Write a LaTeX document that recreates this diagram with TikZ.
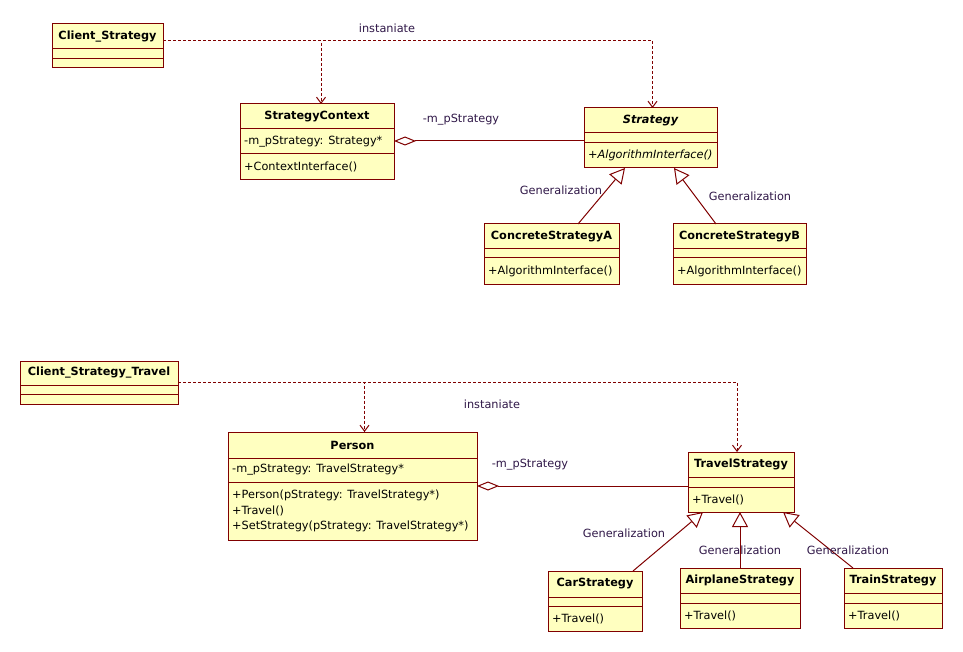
\documentclass[tikz,border=0pt]{standalone}
\usepackage{fontspec}
\setmainfont{DejaVu Sans}
\usepackage{xcolor}
\usepackage{tikz}
\usetikzlibrary{calc}
\usetikzlibrary{arrows.meta}
\definecolor{umlred}{RGB}{128,0,0}
\definecolor{umlfill}{RGB}{255,255,192}
\definecolor{umltext}{RGB}{48,24,72}
\tikzset{
	classbox/.style={draw=umlred, fill=umlfill, line width=1pt, anchor=north west, inner sep=0pt, outer sep=0pt},
	sepline/.style={draw=umlred, line width=1pt},
	classname/.style={font=\fontsize{11.3}{13.5}\selectfont\bfseries, inner sep=0pt},
	member/.style={anchor=west, inner sep=0pt, align=left},
	deplink/.style={draw=umlred, line width=1pt, dash pattern=on 3pt off 2pt, -{Straight Barb[length=6pt,width=9pt]}},
	genlink/.style={draw=umlred, line width=1pt, -{Triangle[open, length=15pt, width=16pt, fill=white]}},
	agglink/.style={draw=umlred, line width=1pt, {Diamond[open, length=22pt, width=9pt, fill=white]}-},
	linklabel/.style={text=umltext, inner sep=0pt}
}

\begin{document}
\begin{tikzpicture}[x=1pt, y=-1pt, font=\fontsize{11.3}{13.5}\selectfont]
	\useasboundingbox[fill=white] (0,0) rectangle (963,652);

	%% Classes (top)
	\node[classbox, minimum width=111pt, minimum height=44pt] (client) at (52,24) {};
	\node[classbox, minimum width=154pt, minimum height=76pt] (ctx) at (240,104) {};
	\node[classbox, minimum width=133pt, minimum height=60pt] (strat) at (584,108) {};
	\node[classbox, minimum width=135pt, minimum height=60pt] (csa) at (484,224) {};
	\node[classbox, minimum width=133pt, minimum height=60pt] (csb) at (673,224) {};

	%% Classes (bottom)
	\node[classbox, minimum width=158pt, minimum height=43pt] (tclient) at (20,361) {};
	\node[classbox, minimum width=249pt, minimum height=108pt] (person) at (228,432) {};
	\node[classbox, minimum width=106pt, minimum height=60pt] (travel) at (688,452) {};
	\node[classbox, minimum width=94pt, minimum height=60pt] (car) at (548,571) {};
	\node[classbox, minimum width=120pt, minimum height=60pt] (plane) at (680,568) {};
	\node[classbox, minimum width=98pt, minimum height=60pt] (train) at (844,568) {};

	% Compartments
	\foreach \c/\a/\b in {client/25/35, ctx/25/50, strat/25/35, csa/25/34, csb/25/34,
		tclient/24/33, person/26/50, travel/25/35, car/26/35, plane/25/35, train/25/35}{
		\draw[sepline] ($(\c.north west)+(0,\a)$) -- ($(\c.north east)+(0,\a)$);
		\draw[sepline] ($(\c.north west)+(0,\b)$) -- ($(\c.north east)+(0,\b)$);
	}

	% Names
	\node[classname] (clientN) at ($(client.north)+(0,12.5)$) {Client\_Strategy};
	\node[classname] (ctxN) at ($(ctx.north)+(0,12.5)$) {StrategyContext};
	\node[classname, font=\fontsize{11.3}{13.5}\selectfont\bfseries\itshape] (stratN) at ($(strat.north)+(0,12.5)$) {Strategy};
	\node[classname] (csaN) at ($(csa.north)+(0,12.5)$) {ConcreteStrategyA};
	\node[classname] (csbN) at ($(csb.north)+(0,12.5)$) {ConcreteStrategyB};
	\node[classname] (tclientN) at ($(tclient.north)+(0,12)$) {Client\_Strategy\_Travel};
	\node[classname] (personN) at ($(person.north)+(0,13)$) {Person};
	\node[classname] (travelN) at ($(travel.north)+(0,12.5)$) {TravelStrategy};
	\node[classname] (carN) at ($(car.north)+(0,13)$) {CarStrategy};
	\node[classname] (planeN) at ($(plane.north)+(0,12.5)$) {AirplaneStrategy};
	\node[classname] (trainN) at ($(train.north)+(0,12.5)$) {TrainStrategy};

	% Members
	\node[member] (ctxA) at ($(ctx.north west)+(4,37.5)$) {-m\_pStrategy: Strategy*};
	\node[member] (ctxO) at ($(ctx.north west)+(4,63)$) {+ContextInterface()};
	\node[member, font=\fontsize{11.3}{13.5}\selectfont\itshape] (stratO) at ($(strat.north west)+(4,47.5)$) {+AlgorithmInterface()};
	\node[member] (csaO) at ($(csa.north west)+(4,47)$) {+AlgorithmInterface()};
	\node[member] (csbO) at ($(csb.north west)+(4,47)$) {+AlgorithmInterface()};
	\node[member] (personA) at ($(person.north west)+(4,38)$) {-m\_pStrategy: TravelStrategy*};
	\node[member, font=\fontsize{11.3}{15.8}\selectfont] (personO) at ($(person.north west)+(4,79)$)
		{+Person(pStrategy: TravelStrategy*)\\+Travel()\\+SetStrategy(pStrategy: TravelStrategy*)};
	\node[member] (travelO) at ($(travel.north west)+(4,48)$) {+Travel()};
	\node[member] (carO) at ($(car.north west)+(4,48)$) {+Travel()};
	\node[member] (planeO) at ($(plane.north west)+(4,47.5)$) {+Travel()};
	\node[member] (trainO) at ($(train.north west)+(4,47.5)$) {+Travel()};

	%% Instaniate
	\coordinate (clientOut) at ($(client.north east)+(0,17)$);
	\coordinate (tclientOut) at ($(tclient.north east)+(0,21)$);
	\draw[deplink] (clientOut) -| ($(ctx.north)+(4,0)$);
	\draw[deplink] (clientOut) -| ($(strat.north)+(2,0)$);
	\draw[deplink] (tclientOut) -| ($(person.north)+(12,0)$);
	\draw[deplink] (tclientOut) -| ($(travel.north)+(-4,0)$);
	\node[linklabel] (inst1) at (387,28) {instaniate};
	\node[linklabel] (inst2) at (492,404) {instaniate};

	%% Aggregation
	\draw[agglink] ($(ctx.north east)+(0,37)$) -- ($(strat.north west)+(0,33)$);
	\draw[agglink] ($(person.north east)+(0,54)$) -- ($(travel.north west)+(0,34)$);
	\node[linklabel] (role1) at (461,120) {-m\_pStrategy};
	\node[linklabel] (role2) at (530,465) {-m\_pStrategy};

	%% Generalization
	\draw[genlink] ($(csa.north west)+(94,0)$) -- ($(strat.south west)+(41,0)$);
	\draw[genlink] ($(csb.north west)+(43,0)$) -- ($(strat.south west)+(90,0)$);
	\draw[genlink] ($(car.north west)+(85,0)$) -- ($(travel.south west)+(15,0)$);
	\draw[genlink] (plane.north) -- (plane.north |- travel.south);
	\draw[genlink] ($(train.north west)+(9,0)$) -- ($(travel.south west)+(95,0)$);
	\node[linklabel] (gen1) at (561,190) {Generalization};
	\node[linklabel] (gen2) at (750,196) {Generalization};
	\node[linklabel] (gen3) at (624,533) {Generalization};
	\node[linklabel] (gen4) at (740,550) {Generalization};
	\node[linklabel] (gen5) at (848,550) {Generalization};

\end{tikzpicture}
\end{document}
